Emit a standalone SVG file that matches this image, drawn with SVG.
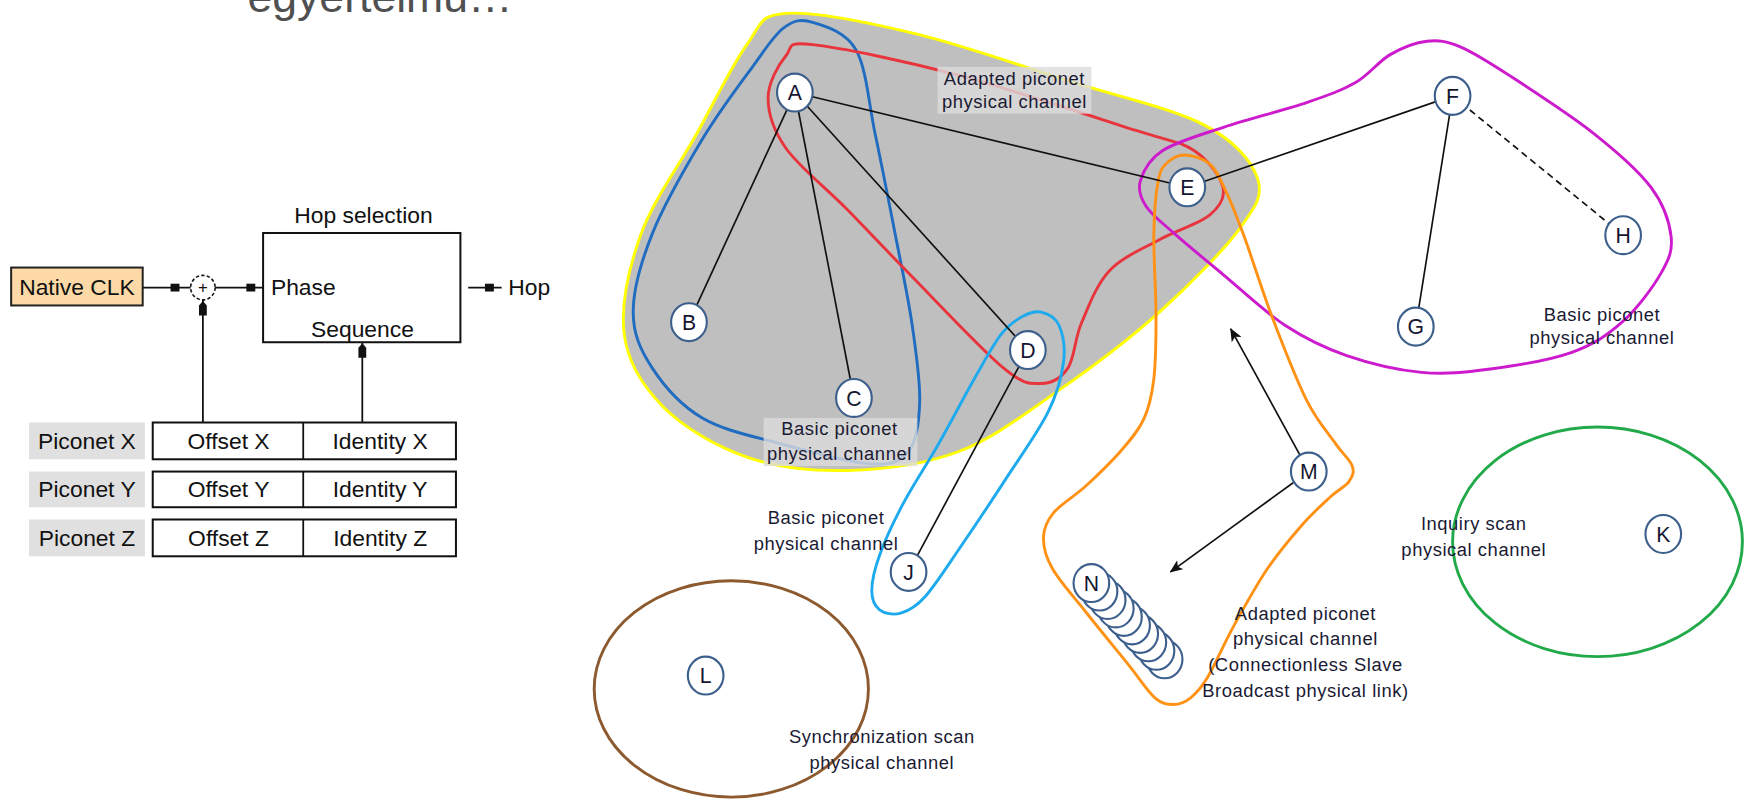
<svg xmlns="http://www.w3.org/2000/svg" width="1748" height="800" viewBox="0 0 1748 800">
<defs>
<style>
  .blk {font-family:"Liberation Sans",Arial,sans-serif; font-size:20.5px; fill:#111;}
  .mid {text-anchor:middle;}
  .box {fill:#fff; stroke:#111; stroke-width:1.8;}
  .tag {fill:#e0e0e0;}
  .wire {stroke:#111; stroke-width:1.6; fill:none;}
  .pin {fill:#111;}
  .ch {fill:none; stroke-width:2.6;}
  .edge {stroke:#111; stroke-width:1.5; fill:none;}
  .node ellipse {fill:#fff; stroke:#3d5f8c; stroke-width:1.9;}
  .node text {font-family:"Liberation Sans",Arial,sans-serif; font-size:19px; fill:#151530; text-anchor:middle;}
  .cap {font-family:"Liberation Sans",Arial,sans-serif; font-size:16.5px; fill:#1a1a33; text-anchor:middle; letter-spacing:0.5px;}
  .capbg {fill:#dcdcdc; opacity:0.8;}
</style>
<marker id="arr" viewBox="0 0 12 10" refX="11" refY="5" markerWidth="12" markerHeight="10" markerUnits="userSpaceOnUse" orient="auto">
  <path d="M0,0 L12,5 L0,10 L3,5 Z" fill="#111"/>
</marker>
</defs>
<rect width="1748" height="800" fill="#fff"/>
<g transform="scale(1.114796)">
  <!-- heading, clipped at the top edge -->
  <text x="222" y="11" font-family="'Liberation Sans',Arial,sans-serif" font-size="40" fill="#505050">egyértelmű…</text>

  <!-- hop selection block diagram -->
  <g id="native-clk">
    <rect x="10" y="240" width="118" height="34" fill="#fcd9a6" stroke="#222" stroke-width="1.8"/>
    <text class="blk mid" x="69" y="264.5">Native CLK</text>
  </g>
  <g id="adder">
    <circle cx="182" cy="258" r="11" fill="#fff" stroke="#111" stroke-width="1.4" stroke-dasharray="3,2"/>
    <text x="182" y="263" font-family="'Liberation Sans',Arial,sans-serif" font-size="15" fill="#111" text-anchor="middle">+</text>
  </g>
  <g id="hop-selection">
    <text class="blk mid" x="326" y="200">Hop selection</text>
    <rect class="box" x="236" y="209" width="177" height="98"/>
    <text class="blk" x="243" y="265">Phase</text>
    <text class="blk" x="279" y="302">Sequence</text>
  </g>
  <g id="hop-out">
    <text class="blk" x="456" y="265">Hop</text>
  </g>
  <g id="piconet-x">
    <rect class="tag" x="26" y="379" width="104" height="33"/>
    <text class="blk mid" x="78" y="403">Piconet X</text>
    <rect class="box" x="137" y="379" width="272" height="33"/>
    <line class="wire" x1="272" y1="379" x2="272" y2="412"/>
    <text class="blk mid" x="205" y="403">Offset X</text>
    <text class="blk mid" x="341" y="403">Identity X</text>
  </g>
  <g id="piconet-y">
    <rect class="tag" x="26" y="423" width="104" height="32"/>
    <text class="blk mid" x="78" y="446">Piconet Y</text>
    <rect class="box" x="137" y="423" width="272" height="32"/>
    <line class="wire" x1="272" y1="423" x2="272" y2="455"/>
    <text class="blk mid" x="205" y="446">Offset Y</text>
    <text class="blk mid" x="341" y="446">Identity Y</text>
  </g>
  <g id="piconet-z">
    <rect class="tag" x="26" y="466" width="104" height="33"/>
    <text class="blk mid" x="78" y="490">Piconet Z</text>
    <rect class="box" x="137" y="466" width="272" height="33"/>
    <line class="wire" x1="272" y1="466" x2="272" y2="499"/>
    <text class="blk mid" x="205" y="490">Offset Z</text>
    <text class="blk mid" x="341" y="490">Identity Z</text>
  </g>
  <g id="block-wires">
    <line class="wire" x1="128" y1="258" x2="171" y2="258"/>
    <rect class="pin" x="153" y="254.5" width="8" height="7"/>
    <line class="wire" x1="193" y1="258" x2="236" y2="258"/>
    <rect class="pin" x="221" y="254.5" width="8" height="7"/>
    <line class="wire" x1="420" y1="258" x2="450" y2="258"/>
    <rect class="pin" x="435" y="254.5" width="8" height="7"/>
    <line class="wire" x1="182" y1="269" x2="182" y2="379"/>
    <path class="pin" d="M178.5,283 L178.5,274 L182,270 L185.5,274 L185.5,283 Z"/>
    <line class="wire" x1="325" y1="307" x2="325" y2="379"/>
    <path class="pin" d="M321.5,321 L321.5,312 L325,308 L328.5,312 L328.5,321 Z"/>
  </g>

  <!-- physical channel regions -->
  <g id="channels">
    <path id="region-grey" fill="#bfbfbf" stroke="#ffff00" stroke-width="2.6" d="M705,12 C730,10.3 777.5,19.8 820,30 C862.5,40.2 916.7,59.3 960,73 C1003.3,86.7 1052,97.5 1080,112 C1108,126.5 1122.7,144.5 1128,160 C1133.3,175.5 1126.7,185 1112,205 C1097.3,225 1067,255.8 1040,280 C1013,304.2 980,329.2 950,350 C920,370.8 891.7,393 860,405 C828.3,417 791.7,421.2 760,422 C728.3,422.8 697.5,419.5 670,410 C642.5,400.5 613.3,383.3 595,365 C576.7,346.7 563.3,325.8 560,300 C556.7,274.2 564.2,240 575,210 C585.8,180 609.2,148.3 625,120 C640.8,91.7 656.7,58 670,40 C683.3,22 680,13.7 705,12 Z"/>
    <path id="ch-blue" class="ch" stroke="#1f6cc0" d="M729,20 C739.8,23.3 758.7,28.3 768,45 C777.3,61.7 779.2,92.5 785,120 C790.8,147.5 797.5,181.7 803,210 C808.5,238.3 814.3,265 818,290 C821.7,315 825.5,340.8 825,360 C824.5,379.2 822.5,395.7 815,405 C807.5,414.3 799.2,417.2 780,416 C760.8,414.8 725,404.8 700,398 C675,391.2 649.2,386.3 630,375 C610.8,363.7 595.3,345.8 585,330 C574.7,314.2 568,300 568,280 C568,260 574.7,235.8 585,210 C595.3,184.2 615,150 630,125 C645,100 662.8,76.7 675,60 C687.2,43.3 694,31.7 703,25 C712,18.3 718.2,16.7 729,20 Z"/>
    <path id="ch-red" class="ch" stroke="#e8343c" d="M729,40 C754.5,42.8 809.7,54.2 858,67 C906.3,79.8 983.5,105.7 1019,117 C1054.5,128.3 1058,126.5 1071,135 C1084,143.5 1094.7,158.3 1097,168 C1099.3,177.7 1094.5,185.2 1085,193 C1075.5,200.8 1055,206.7 1040,215 C1025,223.3 1006.7,230.5 995,243 C983.3,255.5 976.2,275.5 970,290 C963.8,304.5 964,321 958,330 C952,339 943.7,344 934,344 C924.3,344 919.3,346 900,330 C880.7,314 841.3,271.7 818,248 C794.7,224.3 778.8,207.2 760,188 C741.2,168.8 716.8,149.7 705,133 C693.2,116.3 689,101.8 689,88 C689,74.2 698.3,58 705,50 C711.7,42 703.5,37.2 729,40 Z"/>
    <path id="ch-magenta" class="ch" stroke="#cc1acc" d="M1023,162 C1025.5,153.7 1030.5,143 1043,135 C1055.5,127 1076.5,121.2 1098,114 C1119.5,106.8 1152.3,98.7 1172,92 C1191.7,85.3 1203.5,81.2 1216,74 C1228.5,66.8 1236.3,55.2 1247,49 C1257.7,42.8 1269.5,38.2 1280,37 C1290.5,35.8 1297.3,36.7 1310,42 C1322.7,47.3 1336,56 1356,69 C1376,82 1409.2,103.5 1430,120 C1450.8,136.5 1469.5,152.7 1481,168 C1492.5,183.3 1497.5,199.2 1499,212 C1500.5,224.8 1497.3,232.2 1490,245 C1482.7,257.8 1468.3,277.2 1455,289 C1441.7,300.8 1429.7,309 1410,316 C1390.3,323 1359.5,328 1337,331 C1314.5,334 1296.5,336 1275,334 C1253.5,332 1228.3,326 1208,319 C1187.7,312 1171.3,304 1153,292 C1134.7,280 1114.5,260.7 1098,247 C1081.5,233.3 1065.7,220.3 1054,210 C1042.3,199.7 1033.2,193 1028,185 C1022.8,177 1020.5,170.3 1023,162 Z"/>
    <path id="ch-orange" class="ch" stroke="#ff9214" d="M1063,139 C1069.3,139.2 1079,141.8 1085,147 C1091,152.2 1093.8,159.2 1099,170 C1104.2,180.8 1109,193 1116,212 C1123,231 1131.7,259.5 1141,284 C1150.3,308.5 1162.5,340 1172,359 C1181.5,378 1191.2,388.2 1198,398 C1204.8,407.8 1211,412.3 1213,418 C1215,423.7 1213.3,427.3 1210,432 C1206.7,436.7 1200.2,439.3 1193,446 C1185.8,452.7 1176.3,461.3 1167,472 C1157.7,482.7 1147,495.2 1137,510 C1127,524.8 1116,544.7 1107,561 C1098,577.3 1089.5,597.2 1083,608 C1076.5,618.8 1073,622 1068,626 C1063,630 1058.3,632 1053,632 C1047.7,632 1042.8,632 1036,626 C1029.2,620 1022.3,608.8 1012,596 C1001.7,583.2 985.3,563.3 974,549 C962.7,534.7 950.3,521.2 944,510 C937.7,498.8 935.8,490.3 936,482 C936.2,473.7 938.7,467.7 945,460 C951.3,452.3 964,445.2 974,436 C984,426.8 996.3,415 1005,405 C1013.7,395 1021,386.8 1026,376 C1031,365.2 1033.2,355.3 1035,340 C1036.8,324.7 1037,305.7 1037,284 C1037,262.3 1034.7,230.3 1035,210 C1035.3,189.7 1037,172.7 1039,162 C1041,151.3 1043,149.8 1047,146 C1051,142.2 1056.7,138.8 1063,139 Z"/>
    <path id="ch-lightblue" class="ch" stroke="#1eaaee" d="M934,280 C939.5,281.3 946.7,284.5 950,292 C953.3,299.5 955.7,312 954,325 C952.3,338 948.7,352.5 940,370 C931.3,387.5 915,410 902,430 C889,450 874,472.5 862,490 C850,507.5 839,525 830,535 C821,545 814.8,548 808,550 C801.2,552 793.3,550.3 789,547 C784.7,543.7 782,538.2 782,530 C782,521.8 784.3,511 789,498 C793.7,485 801.2,468.7 810,452 C818.8,435.3 831.2,417 842,398 C852.8,379 865.7,354.3 875,338 C884.3,321.7 891,309 898,300 C905,291 911,287.3 917,284 C923,280.7 928.5,278.7 934,280 Z"/>
    <ellipse id="ch-green" class="ch" stroke="#22aa4a" cx="1433" cy="486" rx="130" ry="103"/>
    <ellipse id="ch-brown" class="ch" stroke="#8c5a2e" cx="656" cy="618" rx="123" ry="97"/>
  </g>

  <!-- links between devices -->
  <g id="connectors">
    <line class="edge" x1="713" y1="83" x2="618" y2="289"/>
    <line class="edge" x1="713" y1="83" x2="766" y2="357"/>
    <line class="edge" x1="713" y1="83" x2="922" y2="314"/>
    <line class="edge" x1="713" y1="83" x2="1065" y2="168"/>
    <line class="edge" x1="1065" y1="168" x2="1303" y2="86"/>
    <line class="edge" x1="1303" y1="86" x2="1270" y2="293"/>
    <line class="edge" x1="1303" y1="86" x2="1456" y2="211" stroke-dasharray="6,4"/>
    <line class="edge" x1="922" y1="314" x2="815" y2="513"/>
    <line class="edge" x1="1166" y1="408" x2="1104" y2="295" marker-end="url(#arr)"/>
    <line class="edge" x1="1160" y1="433" x2="1050" y2="513" marker-end="url(#arr)"/>
  </g>

  <!-- channel captions -->
  <g id="captions">
    <rect class="capbg" x="841" y="60" width="138" height="42"/>
    <text class="cap" x="910" y="76">Adapted piconet</text>
    <text class="cap" x="910" y="97">physical channel</text>
    <rect class="capbg" x="685" y="375" width="138" height="43"/>
    <text class="cap" x="753" y="390">Basic piconet</text>
    <text class="cap" x="753" y="413">physical channel</text>
    <text class="cap" x="1437" y="288">Basic piconet</text>
    <text class="cap" x="1437" y="309">physical channel</text>
    <text class="cap" x="741" y="470">Basic piconet</text>
    <text class="cap" x="741" y="493">physical channel</text>
    <text class="cap" x="1322" y="475">Inquiry scan</text>
    <text class="cap" x="1322" y="499">physical channel</text>
    <text class="cap" x="1171" y="556">Adapted piconet</text>
    <text class="cap" x="1171" y="579">physical channel</text>
    <text class="cap" x="1171" y="602">(Connectionless Slave</text>
    <text class="cap" x="1171" y="625">Broadcast physical link)</text>
    <text class="cap" x="791" y="666.5">Synchronization scan</text>
    <text class="cap" x="791" y="689.5">physical channel</text>
  </g>

  <!-- devices -->
  <g id="node-A" class="node"><ellipse cx="713" cy="83" rx="16" ry="17"/><text x="713" y="90">A</text></g>
  <g id="node-B" class="node"><ellipse cx="618" cy="289" rx="16" ry="17"/><text x="618" y="296">B</text></g>
  <g id="node-C" class="node"><ellipse cx="766" cy="357" rx="16" ry="17"/><text x="766" y="364">C</text></g>
  <g id="node-D" class="node"><ellipse cx="922" cy="314" rx="16" ry="17"/><text x="922" y="321">D</text></g>
  <g id="node-E" class="node"><ellipse cx="1065" cy="168" rx="16" ry="17"/><text x="1065" y="175">E</text></g>
  <g id="node-F" class="node"><ellipse cx="1303" cy="86" rx="16" ry="17"/><text x="1303" y="93">F</text></g>
  <g id="node-G" class="node"><ellipse cx="1270" cy="293" rx="16" ry="17"/><text x="1270" y="300">G</text></g>
  <g id="node-H" class="node"><ellipse cx="1456" cy="211" rx="16" ry="17"/><text x="1456" y="218">H</text></g>
  <g id="node-J" class="node"><ellipse cx="815" cy="513" rx="16" ry="17"/><text x="815" y="520">J</text></g>
  <g id="node-K" class="node"><ellipse cx="1492" cy="479" rx="16" ry="17"/><text x="1492" y="486">K</text></g>
  <g id="node-L" class="node"><ellipse cx="633" cy="606" rx="16" ry="17"/><text x="633" y="613">L</text></g>
  <g id="node-M" class="node"><ellipse cx="1174" cy="423" rx="16" ry="17"/><text x="1174" y="430">M</text></g>
  <g id="node-N" class="node">
    <ellipse cx="1044.7" cy="591.4" rx="16" ry="17"/>
    <ellipse cx="1037.4" cy="583.8" rx="16" ry="17"/>
    <ellipse cx="1030.1" cy="576.2" rx="16" ry="17"/>
    <ellipse cx="1022.8" cy="568.6" rx="16" ry="17"/>
    <ellipse cx="1015.5" cy="561" rx="16" ry="17"/>
    <ellipse cx="1008.2" cy="553.4" rx="16" ry="17"/>
    <ellipse cx="1000.9" cy="545.8" rx="16" ry="17"/>
    <ellipse cx="993.6" cy="538.2" rx="16" ry="17"/>
    <ellipse cx="986.3" cy="530.6" rx="16" ry="17"/>
    <ellipse cx="979" cy="523" rx="16" ry="17"/>
    <text x="979" y="530">N</text>
  </g>
</g>
</svg>
